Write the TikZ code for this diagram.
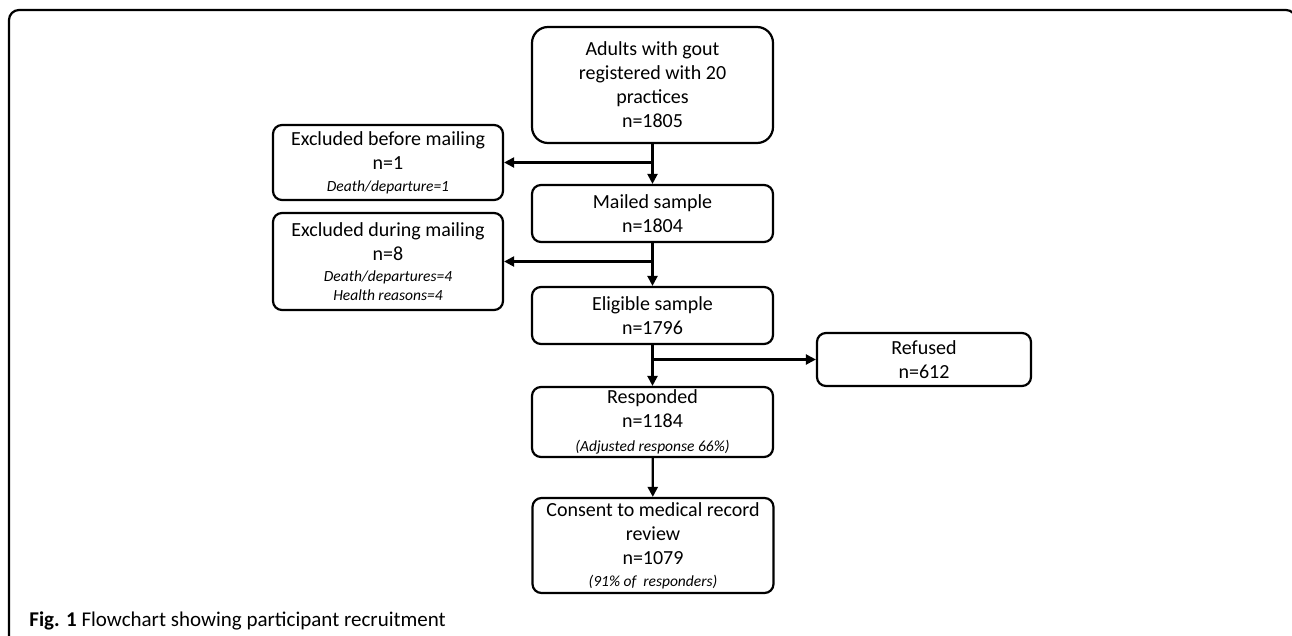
\documentclass[tikz,border=0pt]{standalone}
\usepackage{fontspec}
\setmainfont{Carlito}
\usetikzlibrary{arrows.meta,calc}

\newcommand{\smit}[1]{{\fontsize{15.5}{19}\selectfont\itshape #1}}

\begin{document}
\begin{tikzpicture} [->,>={Triangle[length=10pt,width=10pt]},x=1pt,y=-1pt,line width=2.2pt]
  \tikzstyle{every node}=[font=\fontsize{20}{24}\selectfont]
  \tikzstyle{box}=[draw,rounded corners=9pt,align=center,inner sep=0pt,minimum width=241pt]
  \tikzstyle{side}=[box,minimum width=230pt]

  \useasboundingbox (0,0) rectangle (1292,635);
  \draw[-,rounded corners=10pt] (9,640) -- (9,10) -- (1296,10) -- (1296,40);

  \node[box,minimum height=116pt,rounded corners=16pt] (A) at (652.5,85)
       {Adults with gout\\registered with 20\\practices\\n=1805};
  \node[box,minimum height=57pt]  (B) at (652.5,213.5) {Mailed sample\\n=1804};
  \node[box,minimum height=57pt]  (C) at (652.5,315.5) {Eligible sample\\n=1796};
  \node[box,minimum height=70pt]  (D) at (652.5,422)
       {Responded\\n=1184\\ \smit{(Adjusted response 66\%)}};
  \node[box,minimum height=95pt]  (E) at (653,545.5)
       {Consent to medical record\\review\\n=1079\\[-2pt] \smit{(91\% of\ \ responders)}};
  \node[side,minimum height=75pt] (X1) at (388,162.5)
       {Excluded before mailing\\n=1\\[-2pt] \smit{Death/departure=1}};
  \node[side,minimum height=97pt] (X2) at (388,261.5)
       {Excluded during mailing\\n=8\\[-3pt] \smit{Death/departures=4}\\[-5pt] \smit{Health reasons=4}};
  \node[box,minimum width=214pt,minimum height=53pt] (R) at (924,359.5) {Refused\\n=612};

  \coordinate (j1) at (A.south |- X1.east);
  \coordinate (j2) at (B.south |- X2.east);
  \coordinate (j3) at (C.south |- R.west);

  \path (A) edge (B)
        (B) edge (C)
        (C) edge (D)
        (D) edge (E)
        (j1) edge (X1.east)
        (j2) edge (X2.east)
        (j3) edge (R.west);

  \node[anchor=base west,font=\fontsize{21}{25}\selectfont] (cap) at (25,626)
       {\textbf{Fig. 1} Flowchart showing participant recruitment};
\end{tikzpicture}
\end{document}
